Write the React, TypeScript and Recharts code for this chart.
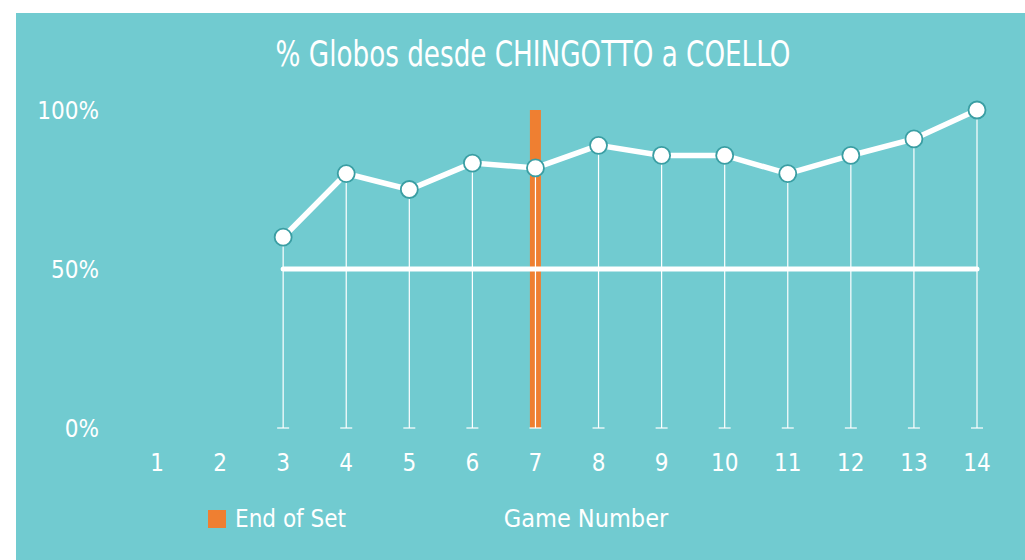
import { ComposedChart, Bar, Line, XAxis, YAxis, ReferenceLine } from 'recharts'

const games = [1, 2, 3, 4, 5, 6, 7, 8, 9, 10, 11, 12, 13, 14]
const globoPct = [null, null, 60, 80, 75, 83.3, 81.8, 88.9, 85.7, 85.7, 80, 85.7, 90.9, 100]
const fiftyLine = [null, null, 50, 50, 50, 50, 50, 50, 50, 50, 50, 50, 50, 50]
const endOfSet = [null, null, null, null, null, null, 100, null, null, null, null, null, null, null]
const yTicks = [0, 50, 100]

const TEAL = '#71cbd0'
const DOT_RING = '#3a9ea3'
const ORANGE = '#ef7f31'
const FONT = "'Liberation Sans Narrow', 'DejaVu Sans Condensed', 'Arial Narrow', sans-serif"

const data = games.map((g, i) => ({
  game: g,
  pct: globoPct[i],
  fifty: fiftyLine[i],
  endOfSet: endOfSet[i],
}))

// vertical drop line with a small cap at the bottom
function DropLine(props: any) {
  const { x1, y1, x2, y2 } = props
  const bottom = Math.max(y1, y2)
  return (
    <g>
      <line x1={x1} y1={y1} x2={x2} y2={y2} stroke="#fff" strokeWidth={1.2} />
      <line x1={x1 - 6} y1={bottom} x2={x1 + 6} y2={bottom} stroke="#fff" strokeWidth={1.2} />
    </g>
  )
}

export default function App() {
  return (
    <div style={{ position: 'absolute', left: 0, top: 0, width: 1025, height: 560, background: '#fff' }}>
      <div style={{ position: 'absolute', left: 16, top: 13, width: 1009, height: 547, background: TEAL }}>
        <div
          style={{
            position: 'absolute',
            left: 0,
            top: 19,
            width: 1034,
            textAlign: 'center',
            fontFamily: FONT,
            fontSize: 36,
            color: '#fff',
            lineHeight: '44px',
            transform: 'scaleX(0.81)',
            transformOrigin: '517px 0',
          }}
        >
          % Globos desde CHINGOTTO a COELLO
        </div>
        <ComposedChart width={1009} height={547} data={data} margin={{ top: 97, right: 48, left: 41, bottom: 22 }}>
          <XAxis
            dataKey="game"
            type="number"
            domain={[1, 14]}
            ticks={games}
            axisLine={false}
            tickLine={false}
            tickMargin={20}
            height={110}
            tick={{ fill: '#fff', fontSize: 24, fontFamily: FONT }}
            label={{ value: 'Game Number', position: 'insideBottom', offset: 11, dx: 19, fill: '#fff', fontSize: 25, fontFamily: FONT }}
          />
          <YAxis
            type="number"
            domain={[0, 100]}
            ticks={yTicks}
            axisLine={false}
            tickLine={false}
            tickMargin={52}
            width={100}
            tickFormatter={(v) => `${v}%`}
            tick={{ fill: '#fff', fontSize: 24, fontFamily: FONT }}
          />
          <Bar dataKey="endOfSet" name="End of Set" fill={ORANGE} barSize={11} isAnimationActive={false} />
          {data
            .filter((d) => d.pct != null)
            .map((d) => (
              <ReferenceLine
                key={d.game}
                segment={[{ x: d.game, y: 0 }, { x: d.game, y: d.pct as number }]}
                shape={<DropLine />}
              />
            ))}
          <Line
            dataKey="fifty"
            stroke="#fff"
            strokeWidth={5}
            strokeLinecap="round"
            dot={false}
            activeDot={false}
            isAnimationActive={false}
          />
          <Line
            dataKey="pct"
            stroke="#fff"
            strokeWidth={5.5}
            dot={{ r: 8.5, fill: '#fff', stroke: DOT_RING, strokeWidth: 1.8 }}
            activeDot={false}
            isAnimationActive={false}
          />
        </ComposedChart>
        <div
          style={{
            position: 'absolute',
            left: 192,
            top: 491,
            display: 'flex',
            alignItems: 'center',
            fontFamily: FONT,
            fontSize: 24,
            color: '#fff',
            lineHeight: '30px',
          }}
        >
          <span style={{ width: 18, height: 18, background: ORANGE, display: 'inline-block', marginRight: 9 }} />
          <span>End of Set</span>
        </div>
      </div>
    </div>
  )
}
